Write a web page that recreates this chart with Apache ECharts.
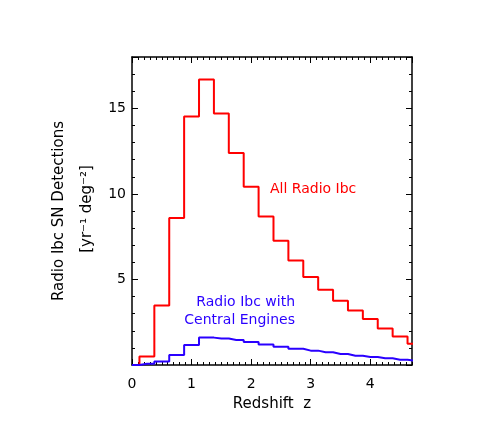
<!DOCTYPE html>
<html>
<head>
<meta charset="utf-8">
<script src="https://cdn.jsdelivr.net/npm/echarts@6/dist/echarts.min.js"></script>
<style>
html,body{margin:0;padding:0;background:#fff;}
#chart{width:498px;height:433px;}
</style>
</head>
<body>
<div id="chart"></div>
<script>
// Bin centres (redshift z)
const redshiftBins = [0, 0.25, 0.5, 0.75, 1.0, 1.25, 1.5, 1.75, 2.0, 2.25, 2.5, 2.75, 3.0, 3.25, 3.5, 3.75, 4.0, 4.25, 4.5, 4.75];
// All Radio Ibc detections [yr^-1 deg^-2]
const allRadioIbc = [0, 0.50, 3.47, 8.59, 14.53, 16.69, 14.70, 12.39, 10.42, 8.68, 7.26, 6.11, 5.14, 4.40, 3.76, 3.19, 2.69, 2.14, 1.67, 1.24];
// Radio Ibc with central engines
const centralEngines = [0, 0.07, 0.21, 0.58, 1.17, 1.60, 1.55, 1.46, 1.34, 1.20, 1.07, 0.95, 0.84, 0.74, 0.64, 0.54, 0.47, 0.39, 0.31, 0.25];
// Axis tick labels
const xTickLabels = [0, 1, 2, 3, 4];
const yTickLabels = [5, 10, 15];

const X_MIN = 0, X_MAX = 4.7, Y_MIN = 0, Y_MAX = 18;
const X_MINOR_PER_UNIT = 10;
const FONT = 'DejaVu Sans';

const chart = echarts.init(document.getElementById('chart'), null, {renderer: 'canvas'});

function pairs(xs, ys) { return xs.map((x, i) => [x, ys[i]]); }

const lineAx = {show: true, onZero: false, lineStyle: {color: '#000', width: 1.5}};
const hiddenLine = {show: false, onZero: false};
const noLabel = {show: false};

function xMajor(pos, labels) {
  return {
    type: 'value', position: pos, min: X_MIN, max: X_MAX, interval: 1,
    axisLine: lineAx,
    axisTick: {show: true, inside: true, length: 6, lineStyle: {color: '#000', width: 1}},
    splitLine: {show: false},
    axisLabel: labels ? {
      show: true, color: '#000', fontFamily: FONT, fontSize: 14, margin: 12,
      showMaxLabel: false,
      formatter: v => xTickLabels.includes(Math.round(v * 1000) / 1000) ? String(v) : ''
    } : noLabel
  };
}
// minor-tick axis scaled so that one unit = 0.1 in redshift
function xMinor(pos) {
  return {
    type: 'value', position: pos, min: 0, max: Math.round(X_MAX * X_MINOR_PER_UNIT), interval: 1,
    axisLine: hiddenLine,
    axisTick: {show: true, inside: true, length: 3, lineStyle: {color: '#000', width: 1}},
    splitLine: {show: false}, axisLabel: noLabel
  };
}
function yAx(pos, interval, tickLen, labels, lineShow) {
  return {
    type: 'value', position: pos, min: Y_MIN, max: Y_MAX, interval: interval,
    axisLine: lineShow ? lineAx : hiddenLine,
    axisTick: {show: true, inside: true, length: tickLen, lineStyle: {color: '#000', width: 1}},
    splitLine: {show: false},
    axisLabel: labels ? {
      show: true, color: '#000', fontFamily: FONT, fontSize: 14, margin: 6,
      formatter: v => yTickLabels.includes(v) ? String(v) : ''
    } : noLabel
  };
}

const option = {
  backgroundColor: '#fff',
  animation: false,
  grid: {left: 132, top: 57, width: 280, height: 308},
  xAxis: [
    Object.assign(xMajor('bottom', true), {
      name: 'Redshift  z', nameLocation: 'middle', nameGap: 32,
      nameTextStyle: {color: '#000', fontFamily: FONT, fontSize: 15}
    }),
    xMinor('bottom'),
    xMajor('top', false),
    xMinor('top')
  ],
  yAxis: [
    yAx('left', 5, 6, true, true),
    yAx('left', 1, 3, false, false),
    yAx('right', 5, 6, false, true),
    yAx('right', 1, 3, false, false)
  ],
  graphic: [
    {type: 'text', x: 59, y: 211, rotation: Math.PI / 2,
     style: {text: 'Radio Ibc SN Detections', fill: '#000', font: '15px "DejaVu Sans"', textAlign: 'center', textVerticalAlign: 'middle'}},
    {type: 'text', x: 87, y: 209, rotation: Math.PI / 2,
     style: {text: '[yr\u207B\u00B9 deg\u207B\u00B2]', fill: '#000', font: '15px "DejaVu Sans"', textAlign: 'center', textVerticalAlign: 'middle'}},
    {type: 'text', x: 270, y: 189,
     style: {text: 'All Radio Ibc', fill: '#ff0000', font: '14px "DejaVu Sans"', textAlign: 'left', textVerticalAlign: 'middle'}},
    {type: 'text', x: 295, y: 302,
     style: {text: 'Radio Ibc with', fill: '#2a00ff', font: '14px "DejaVu Sans"', textAlign: 'right', textVerticalAlign: 'middle'}},
    {type: 'text', x: 295, y: 320,
     style: {text: 'Central Engines', fill: '#2a00ff', font: '14px "DejaVu Sans"', textAlign: 'right', textVerticalAlign: 'middle'}}
  ],
  series: [
    {type: 'line', name: 'All Radio Ibc', xAxisIndex: 0, yAxisIndex: 0, step: 'middle',
     data: pairs(redshiftBins, allRadioIbc), showSymbol: false, clip: true,
     lineStyle: {color: '#ff0000', width: 2}, itemStyle: {color: '#ff0000'}},
    {type: 'line', name: 'Radio Ibc with Central Engines', xAxisIndex: 0, yAxisIndex: 0, step: 'middle',
     data: pairs(redshiftBins, centralEngines), showSymbol: false, clip: true,
     lineStyle: {color: '#2a00ff', width: 2}, itemStyle: {color: '#2a00ff'}}
  ]
};
chart.setOption(option);
</script>
</body>
</html>
